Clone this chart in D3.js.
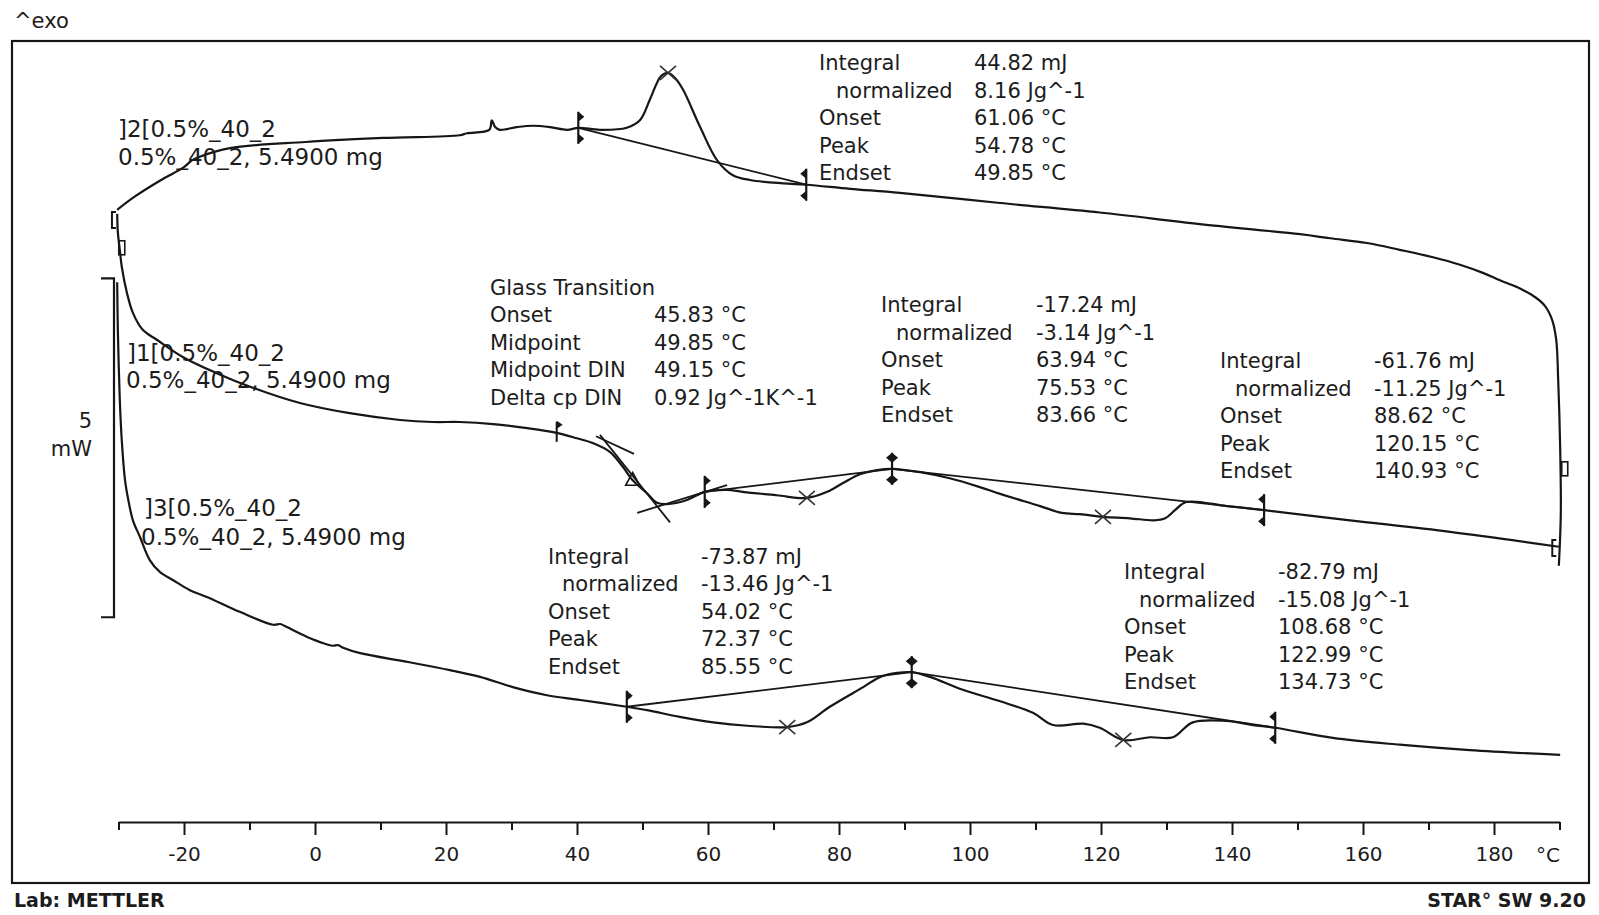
<!DOCTYPE html>
<html><head><meta charset="utf-8">
<script src="https://cdn.jsdelivr.net/npm/d3@7"></script>
<style>
body{margin:0;background:#fff}
svg{display:block}
text{font-family:"DejaVu Sans",Verdana,sans-serif;fill:#1c1c1c}
</style>
</head><body>
<svg id="c" width="1599" height="915"></svg>
<script>
// ---------- data (temperature in °C, heat flow in mW) ----------
const curve1T = [-30.2,-30.1,-29.8,-29.5,-28.7,-27.8,-26.3,-24.1,-20.2,-15.0,-9.9,-2.3,5.3,13.0,18.0,22.1,27.2,32.4,36.9,40.0,42.4,45.0,47.0,48.5,50.7,52.2,53.7,56.8,59.5,62.9,65.3,70.5,75.1,78.2,80.6,83.2,85.8,88.1,92.4,96.9,101.5,104.6,110.7,114.0,116.8,120.3,124.4,128.1,129.8,131.3,133.0,139.2,144.9,158.0,173.3,189.9];
const curve1mW = [8.97,8.70,8.44,8.19,7.80,7.51,7.26,7.11,6.86,6.62,6.42,6.18,6.03,5.93,5.90,5.90,5.87,5.81,5.74,5.66,5.59,5.46,5.24,5.04,4.85,4.71,4.69,4.75,4.87,4.90,4.87,4.82,4.78,4.87,5.00,5.13,5.19,5.21,5.16,5.07,4.94,4.84,4.66,4.56,4.54,4.50,4.48,4.45,4.48,4.60,4.72,4.66,4.60,4.45,4.28,4.06];

const curve2T = [189.9,190.2,190.1,189.8,189.5,188.9,187.8,186.3,183.5,180.9,178.3,174.8,170.7,165.6,160.6,155.0,150.4,135.1,119.8,104.6,89.3,81.7,75.0,71.5,66.4,63.8,61.4,58.8,56.2,55.0,53.9,52.8,52.2,51.1,49.6,47.6,43.5,40.2,38.5,35.9,33.3,30.8,28.2,27.5,27.0,26.6,23.2,22.1,10.4,-1.4,-13.0,-17.7,-18.8,-20.0,-23.5,-27.6,-30.2];
const curve2mW = [3.78,4.56,5.53,6.52,7.11,7.40,7.61,7.74,7.89,7.99,8.10,8.22,8.33,8.44,8.54,8.61,8.67,8.82,8.99,9.13,9.28,9.34,9.40,9.42,9.47,9.54,9.76,10.25,10.80,10.97,11.05,11.00,10.90,10.65,10.35,10.24,10.21,10.24,10.21,10.25,10.27,10.25,10.21,10.25,10.35,10.21,10.16,10.13,10.09,10.03,9.94,9.81,9.76,9.66,9.47,9.22,9.03];

const curve3T = [-30.2,-30.1,-29.8,-29.5,-29.0,-28.5,-27.8,-26.7,-25.2,-23.7,-21.7,-19.1,-16.5,-11.5,-6.4,-5.3,-4.6,-1.2,2.7,3.5,4.3,6.9,14.2,20.6,25.2,30.2,35.4,40.5,47.6,50.7,55.7,60.8,66.0,72.1,75.1,78.6,83.7,86.3,88.9,91.1,93.9,98.9,104.6,109.6,112.7,117.3,119.8,123.4,127.5,131.0,134.0,139.2,143.2,146.6,155.4,165.6,176.3,190.1];
const curve3mW = [7.96,7.26,6.22,5.63,5.04,4.75,4.45,4.20,3.86,3.69,3.57,3.42,3.32,3.10,2.91,2.92,2.89,2.73,2.60,2.61,2.57,2.49,2.36,2.24,2.14,1.99,1.87,1.80,1.70,1.65,1.55,1.47,1.42,1.40,1.47,1.70,1.99,2.14,2.20,2.21,2.14,1.95,1.78,1.61,1.43,1.45,1.39,1.21,1.25,1.25,1.47,1.49,1.43,1.39,1.24,1.14,1.06,0.99];

// integration baselines
const base1T = [59.5,88.1,144.9], base1mW = [4.87,5.21,4.60];
const base2T = [40.2,75.0],       base2mW = [10.24,9.40];
const base3T = [47.6,91.1,146.6], base3mW = [1.70,2.21,1.39];

// glass transition construction lines (curve 1)
const gtUpperT = [42.9,48.7],   gtUpperMW = [5.69,5.43];
const gtTangentT = [43.5,54.2], gtTangentMW = [5.71,4.42];
const gtLowerT = [49.2,62.9],   gtLowerMW = [4.56,4.97];

// peak maxima (X marks)
const peakT  = [53.9,75.1,120.3,72.1,123.4];
const peakMW = [11.05,4.78,4.50,1.40,1.21];

// integration limits: right-pointing, both, left-pointing
const limitT   = [40.2,75.0,59.5,88.1,144.9,47.6,91.1,146.6];
const limitMW  = [10.24,9.40,4.87,5.21,4.60,1.70,2.21,1.39];
const limitDir = ["r","l","r","b","l","r","b","l"];

// glass transition markers
const gtOnsetT = 36.9, gtOnsetMW = 5.74;
const gtMidT = 48.5, gtMidMW = 5.04;

// segment brackets
const segT = [-31.0,-29.5,188.9,190.8];
const segMW = [8.88,8.47,4.04,5.21];
const segKind = ["open","box","open","box"];

// scale bar
const scaleBarLow = 3.02, scaleBarSpan = 5;

// axis ticks
const majorTicks = [-20,0,20,40,60,80,100,120,140,160,180];
const minorTicks = [-30,-10,10,30,50,70,90,110,130,150,170,190];

// annotation texts
const peakLabels = ["Integral","normalized","Onset","Peak","Endset"];
const c2Values  = ["44.82 mJ","8.16 Jg^-1","61.06 °C","54.78 °C","49.85 °C"];
const c1aValues = ["-17.24 mJ","-3.14 Jg^-1","63.94 °C","75.53 °C","83.66 °C"];
const c1bValues = ["-61.76 mJ","-11.25 Jg^-1","88.62 °C","120.15 °C","140.93 °C"];
const c3aValues = ["-73.87 mJ","-13.46 Jg^-1","54.02 °C","72.37 °C","85.55 °C"];
const c3bValues = ["-82.79 mJ","-15.08 Jg^-1","108.68 °C","122.99 °C","134.73 °C"];
const gtTitle = "Glass Transition";
const gtLabels = ["Onset","Midpoint","Midpoint DIN","Delta cp DIN"];
const gtValues = ["45.83 °C","49.85 °C","49.15 °C","0.92 Jg^-1K^-1"];
const curveNames = ["]1[0.5%_40_2","]2[0.5%_40_2","]3[0.5%_40_2"];
const sampleLine = "0.5%_40_2, 5.4900 mg";

// ---------- drawing ----------
const svg = d3.select("#c");
svg.append("rect").attr("width",1599).attr("height",915).attr("fill","#fff");

const x = d3.scaleLinear().domain([-30,190]).range([118.5,1559.5]);
const y = d3.scaleLinear().domain([0,11.52]).range([822,41]);
const ink = "#161616";

// frame
svg.append("rect").attr("x",12).attr("y",41).attr("width",1577).attr("height",842)
  .attr("fill","none").attr("stroke",ink).attr("stroke-width",2.2);

// axes
const gMaj = svg.append("g").attr("transform","translate(0,822)")
  .call(d3.axisBottom(x).tickValues(majorTicks).tickSize(13).tickPadding(12).tickSizeOuter(0).tickFormat(d3.format("d")));
const gMin = svg.append("g").attr("transform","translate(0,822)")
  .call(d3.axisBottom(x).tickValues(minorTicks).tickSize(8).tickSizeOuter(0).tickFormat(""));
gMin.select(".domain").remove();
[gMaj,gMin].forEach(g=>{
  g.selectAll("path,line").attr("stroke",ink).attr("stroke-width",2);
  g.selectAll("text").attr("font-size",20).attr("fill",ink)
   .attr("font-family","'DejaVu Sans',Verdana,sans-serif");
});
gMaj.selectAll("text").text(d=> d<0 ? "-"+Math.abs(d) : d);
svg.append("text").attr("x",1548).attr("y",855).attr("text-anchor","middle")
  .attr("dominant-baseline","central").attr("font-size",20).text("°C");

// scale bar
svg.append("path")
  .attr("d",`M101,${y(scaleBarLow+scaleBarSpan)}H114V${y(scaleBarLow)}H101`)
  .attr("fill","none").attr("stroke",ink).attr("stroke-width",2.2);
svg.append("text").attr("x",92).attr("y",421).attr("text-anchor","end")
  .attr("dominant-baseline","central").attr("font-size",21).text(scaleBarSpan);
svg.append("text").attr("x",92).attr("y",449).attr("text-anchor","end")
  .attr("dominant-baseline","central").attr("font-size",21).text("mW");

// curves
const line = d3.line().x(d=>x(d[0])).y(d=>y(d[1])).curve(d3.curveCatmullRom.alpha(0.5));
const straight = d3.line().x(d=>x(d[0])).y(d=>y(d[1]));
const zip = (a,b)=>a.map((v,i)=>[v,b[i]]);

[[base1T,base1mW],[base2T,base2mW],[base3T,base3mW],
 [gtUpperT,gtUpperMW],[gtTangentT,gtTangentMW],[gtLowerT,gtLowerMW]].forEach(([t,m])=>{
  svg.append("path").attr("d",straight(zip(t,m))).attr("fill","none")
    .attr("stroke",ink).attr("stroke-width",1.8);
});

[[curve1T,curve1mW],[curve2T,curve2mW],[curve3T,curve3mW]].forEach(([t,m])=>{
  svg.append("path").attr("d",line(zip(t,m))).attr("fill","none")
    .attr("stroke",ink).attr("stroke-width",2.2).attr("stroke-linejoin","round");
});

// X marks
peakT.forEach((t,i)=>{
  const px=x(t), py=y(peakMW[i]);
  svg.append("path").attr("d",`M${px-8},${py-7}L${px+8},${py+7}M${px+8},${py-7}L${px-8},${py+7}`)
    .attr("stroke","#333").attr("stroke-width",1.6);
});

// integration limit markers
limitT.forEach((t,i)=>{
  const px=x(t), py=y(limitMW[i]), d=limitDir[i], h=16;
  const g=svg.append("g");
  g.append("line").attr("x1",px).attr("x2",px).attr("y1",py-h).attr("y2",py+h)
    .attr("stroke",ink).attr("stroke-width",2.2);
  const tri=(yy,s)=>`M${px},${yy-5}L${px+6*s},${yy}L${px},${yy+5}Z`;
  [py-h+5, py+h-5].forEach(yy=>{
    if(d==="r"||d==="b") g.append("path").attr("d",tri(yy,1)).attr("fill",ink);
    if(d==="l"||d==="b") g.append("path").attr("d",tri(yy,-1)).attr("fill",ink);
  });
});

// glass transition markers
{
  const px=x(gtOnsetT), py=y(gtOnsetMW);
  svg.append("line").attr("x1",px).attr("x2",px).attr("y1",py-11).attr("y2",py+9)
    .attr("stroke",ink).attr("stroke-width",2);
  svg.append("path").attr("d",`M${px},${py-12}L${px+6},${py-8}L${px},${py-4}Z`).attr("fill",ink);
  const mx=x(gtMidT), my=y(gtMidMW);
  svg.append("path").attr("d",`M${mx},${my-8}L${mx+7},${my+5}L${mx-7},${my+5}Z`)
    .attr("fill","none").attr("stroke",ink).attr("stroke-width",1.6);
}

// segment brackets
segT.forEach((t,i)=>{
  const px=x(t), py=y(segMW[i]);
  if(segKind[i]==="open"){
    svg.append("path").attr("d",`M${px+4},${py-8}H${px}V${py+8}H${px+4}`)
      .attr("fill","none").attr("stroke",ink).attr("stroke-width",2);
  } else {
    svg.append("rect").attr("x",px-3).attr("y",py-7).attr("width",6).attr("height",14)
      .attr("fill","none").attr("stroke",ink).attr("stroke-width",1.6);
  }
});

// text helpers
function txt(xx,yy,s,size,anchor){
  return svg.append("text").attr("x",xx).attr("y",yy).attr("font-size",size||21)
    .attr("text-anchor",anchor||"start").attr("dominant-baseline","central").text(s);
}
function peakBlock(x0,xi,xv,y0,vals){
  peakLabels.forEach((l,i)=>txt(i===1?xi:x0, y0+i*27.5, l));
  vals.forEach((v,i)=>txt(xv, y0+i*27.5, v));
}
peakBlock(819,836,974,63,c2Values);
peakBlock(881,896,1036,305,c1aValues);
peakBlock(1220,1235,1374,361,c1bValues);
peakBlock(548,562,701,556.5,c3aValues);
peakBlock(1124,1139,1278,572,c3bValues);

txt(490,288,gtTitle);
gtLabels.forEach((l,i)=>txt(490,315+i*27.5,l));
gtValues.forEach((v,i)=>txt(654,315+i*27.5,v));

// curve labels
txt(118,129,curveNames[1],23); txt(118,157,sampleLine,23);
txt(127,353,curveNames[0],23); txt(126,380,sampleLine,23);
txt(144,508,curveNames[2],23); txt(141,537,sampleLine,23);

// header / footer
txt(14,21,"^exo",21);
txt(14,900,"Lab: METTLER",19).attr("font-weight","bold");
txt(1586,900,"STAR° SW 9.20",19,"end").attr("font-weight","bold");
</script>
</body></html>
